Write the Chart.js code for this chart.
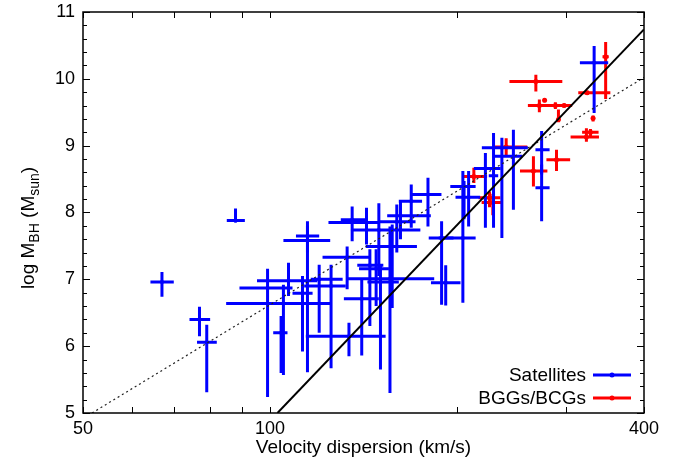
<!DOCTYPE html>
<html lang="en">
<head>
  <meta charset="UTF-8">
  <title>log M_BH vs velocity dispersion</title>
  <script src="https://cdn.jsdelivr.net/npm/chart.js"></script>
  <style>
    body { margin: 0; padding: 0; background: #fff; }
    #wrap { width: 680px; height: 457px; }
  </style>
</head>
<body>
<div id="wrap"><canvas id="msigma" width="680" height="457"></canvas></div>
<script>
  // Satellites (blue): sigma [km/s] with x error range, log M_BH with y error range
  const satSigma   = [67.0, 77.0, 79.1, 88.0, 99.1, 107.1, 104.2, 105.1, 112.8, 114.9, 114.9, 120.0, 134.0, 125.4, 133.1, 135.6, 143.0, 162.2, 149.7, 157.3, 160.0, 156.0, 144.8, 148.2, 150.6, 140.5, 188.9, 204.4, 191.8, 168.8, 179.6, 205.3, 208.8, 222.2, 236.2, 246.5, 229.0, 273.7, 273.7, 332.5];
  const satSigmaLo = [64.2, 74.2, 76.3, 85.2, 89.3, 95.3, 101.2, 85.0, 108.7, 110.1, 105.1, 116.3, 114.2, 113.5, 121.5, 130.0, 124.2, 154.4, 135.0, 142.6, 149.7, 133.0, 138.2, 139.1, 143.5, 131.5, 180.1, 186.9, 181.6, 161.2, 169.1, 195.1, 198.9, 212.9, 219.3, 229.4, 225.0, 267.5, 267.5, 315.4];
  const satSigmaHi = [70.0, 80.1, 82.1, 91.1, 108.7, 119.2, 106.7, 125.3, 117.1, 120.0, 125.0, 130.9, 153.5, 132.4, 144.9, 142.6, 149.7, 181.5, 174.6, 172.4, 171.5, 183.8, 152.2, 155.4, 161.2, 149.7, 197.4, 214.3, 202.6, 175.7, 188.8, 214.3, 217.9, 235.1, 260.1, 254.8, 233.0, 281.9, 281.9, 350.3];
  const satLogM    = [6.96, 6.40, 6.06, 7.88, 6.87, 6.98, 6.20, 6.64, 6.79, 7.65, 7.58, 7.00, 6.15, 6.90, 7.33, 7.89, 7.85, 7.95, 7.74, 7.49, 7.86, 7.01, 7.21, 7.16, 6.96, 6.71, 7.62, 7.62, 6.95, 8.17, 8.27, 8.39, 8.23, 8.66, 8.97, 8.84, 8.55, 8.94, 8.37, 10.24];
  const satLogMLo  = [6.74, 6.15, 5.31, 7.85, 5.24, 6.75, 5.60, 5.57, 5.92, 7.40, 5.61, 6.20, 5.85, 5.67, 6.85, 7.57, 7.52, 7.60, 7.05, 6.57, 7.40, 5.30, 6.30, 6.60, 5.65, 5.86, 6.62, 6.65, 6.61, 7.77, 7.79, 7.90, 7.79, 7.77, 7.62, 8.04, 7.77, 8.57, 7.87, 9.49];
  const satLogMHi  = [7.11, 6.59, 6.32, 8.06, 7.16, 7.25, 6.45, 6.92, 7.05, 7.87, 7.80, 7.22, 6.35, 7.22, 7.49, 8.09, 8.07, 8.17, 8.14, 7.82, 8.12, 7.79, 7.45, 7.45, 7.22, 7.00, 7.87, 8.62, 7.21, 8.42, 8.52, 8.47, 8.62, 8.89, 9.12, 9.24, 9.19, 9.22, 8.72, 10.49];

  // BGGs/BCGs (red)
  const bcgSigma   = [212.9, 225.6, 228.4, 240.0, 265.5, 289.2, 267.9, 271.4, 276.7, 288.0, 297.5, 291.3, 324.0, 347.0, 331.2, 323.1, 328.0];
  const bcgSigmaLo = [203.9, 216.6, 219.1, 229.4, 252.6, 278.6, 242.9, 260.1, 275.0, 277.9, 285.4, 289.5, 313.5, 343.0, 329.0, 304.7, 318.0];
  const bcgSigmaHi = [223.6, 234.9, 236.3, 259.5, 279.6, 304.2, 295.5, 283.4, 278.5, 302.0, 306.5, 293.0, 353.1, 351.0, 333.5, 338.5, 338.0];
  const bcgLogM    = [8.54, 8.22, 8.15, 8.98, 8.62, 8.79, 9.96, 9.60, 9.68, 9.60, 9.60, 9.39, 9.79, 10.33, 9.41, 9.13, 9.20];
  const bcgLogMLo  = [8.44, 8.08, 7.96, 8.83, 8.39, 8.62, 9.81, 9.50, 9.65, 9.55, 9.57, 9.35, 9.76, 9.70, 9.36, 9.06, 9.14];
  const bcgLogMHi  = [8.67, 8.31, 8.28, 9.11, 8.84, 8.94, 10.06, 9.69, 9.71, 9.65, 9.63, 9.54, 9.82, 10.55, 9.45, 9.26, 9.25];

  // relations: solid fit and dotted reference line
  const fitSigma = [102.8, 400];
  const fitLogM  = [5, 10.74];
  const refSigma = [51.7, 400];
  const refLogM  = [5, 10.02];

  // axis ticks
  const xTickVals   = [50, 60, 70, 80, 90, 100, 200, 300, 400];
  const xTickLabels = [50, 100, 400];
  const yMin = 5, yMax = 11;

  const FONT = '"Liberation Sans", Arial, sans-serif';

  function points(xs, ys) {
    return xs.map((x, i) => ({ x: x, y: ys[i] }));
  }
  function ranges(lo, hi) {
    return lo.map((v, i) => [v, hi[i]]);
  }

  // draws the x/y error bars of each dataset that has them
  const errorBars = {
    id: 'errorBars',
    afterDatasetDraw(chart, args) {
      const ds = chart.data.datasets[args.index];
      if (!ds.errX) return;
      const xs = chart.scales.x, ys = chart.scales.y, ctx = chart.ctx;
      ctx.save();
      ctx.strokeStyle = ds.borderColor;
      ctx.lineWidth = 3;
      ds.data.forEach((p, i) => {
        const px = xs.getPixelForValue(p.x);
        const py = ys.getPixelForValue(p.y);
        ctx.beginPath();
        ctx.moveTo(xs.getPixelForValue(ds.errX[i][0]), py);
        ctx.lineTo(xs.getPixelForValue(ds.errX[i][1]), py);
        ctx.moveTo(px, ys.getPixelForValue(ds.errY[i][0]));
        ctx.lineTo(px, ys.getPixelForValue(ds.errY[i][1]));
        ctx.stroke();
      });
      ctx.restore();
    }
  };

  // frame, inward tick marks, axis titles and the legend (gnuplot look)
  const frame = {
    id: 'frame',
    afterDraw(chart) {
      const ctx = chart.ctx, a = chart.chartArea;
      const xs = chart.scales.x, ys = chart.scales.y;
      ctx.save();
      ctx.strokeStyle = '#000';
      ctx.lineWidth = 1.5;
      ctx.strokeRect(a.left, a.top, a.right - a.left, a.bottom - a.top);

      ctx.lineWidth = 1;
      ctx.beginPath();
      xTickVals.forEach(v => {
        const px = Math.round(xs.getPixelForValue(v)) + 0.5;
        ctx.moveTo(px, a.bottom); ctx.lineTo(px, a.bottom - 6);
        ctx.moveTo(px, a.top); ctx.lineTo(px, a.top + 6);
      });
      for (let v = yMin; v <= yMax + 1e-6; v += 0.2) {
        const major = Math.abs(v - Math.round(v)) < 1e-6;
        const len = major ? 7 : 4;
        const py = Math.round(ys.getPixelForValue(v)) + 0.5;
        ctx.moveTo(a.left, py); ctx.lineTo(a.left + len, py);
        ctx.moveTo(a.right, py); ctx.lineTo(a.right - len, py);
      }
      ctx.stroke();

      // x title
      ctx.fillStyle = '#000';
      ctx.font = '19px ' + FONT;
      ctx.textAlign = 'center';
      ctx.textBaseline = 'alphabetic';
      ctx.fillText('Velocity dispersion (km/s)', (a.left + a.right) / 2, 453);

      // y title with subscripts
      const parts = [
        ['log M', false], ['BH', true], [' (M', false], ['sun', true], [')', false]
      ];
      const big = '19px ' + FONT, small = '14px ' + FONT;
      let total = 0;
      parts.forEach(p => { ctx.font = p[1] ? small : big; total += ctx.measureText(p[0]).width; });
      ctx.translate(34, 228);
      ctx.rotate(-Math.PI / 2);
      ctx.textAlign = 'left';
      let tx = -total / 2;
      parts.forEach(p => {
        ctx.font = p[1] ? small : big;
        ctx.fillText(p[0], tx, p[1] ? 5 : 0);
        tx += ctx.measureText(p[0]).width;
      });
      ctx.setTransform(1, 0, 0, 1, 0, 0);

      // legend
      const items = [
        ['Satellites', '#0000ff', 375],
        ['BGGs/BCGs', '#ff0000', 398]
      ];
      ctx.font = '19px ' + FONT;
      ctx.textAlign = 'right';
      ctx.textBaseline = 'middle';
      items.forEach(it => {
        ctx.fillStyle = '#000';
        ctx.fillText(it[0], 586, it[2] + 1);
        ctx.strokeStyle = it[1];
        ctx.lineWidth = 3;
        ctx.beginPath();
        ctx.moveTo(593, it[2]); ctx.lineTo(631, it[2]);
        ctx.stroke();
        ctx.fillStyle = it[1];
        ctx.beginPath();
        ctx.arc(612, it[2], 2.5, 0, Math.PI * 2);
        ctx.fill();
      });
      ctx.restore();
    }
  };

  const chart = new Chart(document.getElementById('msigma').getContext('2d'), {
    type: 'scatter',
    data: {
      datasets: [
        {
          label: 'fit',
          data: points(fitSigma, fitLogM),
          showLine: true,
          borderColor: '#000',
          borderWidth: 2,
          pointRadius: 0
        },
        {
          label: 'reference',
          data: points(refSigma, refLogM),
          showLine: true,
          borderColor: '#222',
          borderWidth: 1.2,
          borderDash: [2, 3],
          pointRadius: 0
        },
        {
          label: 'Satellites',
          data: points(satSigma, satLogM),
          errX: ranges(satSigmaLo, satSigmaHi),
          errY: ranges(satLogMLo, satLogMHi),
          borderColor: '#0000ff',
          backgroundColor: '#0000ff',
          pointRadius: 2,
          pointBorderWidth: 0
        },
        {
          label: 'BGGs/BCGs',
          data: points(bcgSigma, bcgLogM),
          errX: ranges(bcgSigmaLo, bcgSigmaHi),
          errY: ranges(bcgLogMLo, bcgLogMHi),
          borderColor: '#ff0000',
          backgroundColor: '#ff0000',
          pointRadius: 2.5,
          pointBorderWidth: 0
        }
      ]
    },
    options: {
      responsive: false,
      animation: false,
      devicePixelRatio: 1,
      layout: { padding: { top: 12, right: 36, left: 0, bottom: 0 } },
      plugins: { legend: { display: false }, tooltip: { enabled: false } },
      scales: {
        x: {
          type: 'logarithmic',
          min: 50,
          max: 400,
          grid: { display: false, drawTicks: false },
          border: { display: false },
          afterBuildTicks: s => { s.ticks = xTickVals.map(v => ({ value: v })); },
          afterFit: s => { s.height = 44; s.paddingLeft = 0; s.paddingRight = 0; },
          ticks: {
            autoSkip: false,
            maxRotation: 0,
            padding: 5,
            color: '#000',
            font: { family: FONT, size: 18 },
            callback: v => xTickLabels.includes(v) ? String(v) : ''
          }
        },
        y: {
          min: yMin,
          max: yMax,
          grid: { display: false, drawTicks: false },
          border: { display: false },
          afterFit: s => { s.width = 83; s.paddingTop = 0; s.paddingBottom = 0; },
          ticks: {
            stepSize: 1,
            padding: 8,
            color: '#000',
            font: { family: FONT, size: 18 }
          }
        }
      }
    },
    plugins: [errorBars, frame]
  });
</script>
</body>
</html>
